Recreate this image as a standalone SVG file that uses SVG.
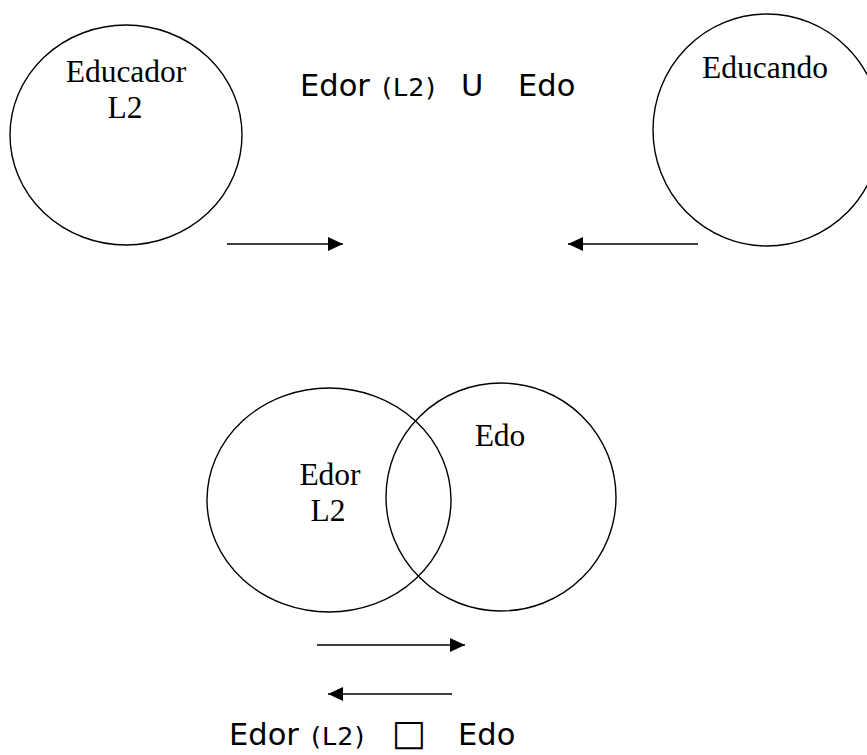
<svg xmlns="http://www.w3.org/2000/svg" width="867" height="755" viewBox="0 0 867 755">
<defs>
<marker id="ah" viewBox="0 0 15 14" refX="15" refY="7" markerWidth="15" markerHeight="14" markerUnits="userSpaceOnUse" orient="auto">
<path d="M0,0 L15,7 L0,14 Z" fill="#000"/>
</marker>
</defs>
<style>
.shape{fill:none;stroke:#000;stroke-width:1.4}
.serif{font-family:"Liberation Serif","Times New Roman",serif;font-size:31.5px;fill:#000}
.sans{font-family:"DejaVu Sans",Verdana,sans-serif;fill:#000}
.big{font-size:30.5px}
.small{font-size:25.5px;letter-spacing:1px}
.sq{font-size:36px}
.conn{stroke:#000;stroke-width:1.7;fill:none;marker-end:url(#ah)}
</style>
<rect width="867" height="755" fill="#fff"/>
<g id="educador">
<ellipse class="shape" cx="126" cy="135" rx="116" ry="110"/>
<text class="serif" x="126" y="82" text-anchor="middle">Educador</text>
<text class="serif" x="125" y="118" text-anchor="middle">L2</text>
</g>
<g id="educando">
<ellipse class="shape" cx="767" cy="130" rx="114" ry="116"/>
<text class="serif" x="765" y="78" text-anchor="middle">Educando</text>
</g>
<g id="union-label">
<text class="sans big" x="300" y="96">Edor</text>
<text class="sans small" x="382" y="96">(L2)</text>
<text class="sans big" x="461" y="96">U</text>
<text class="sans big" x="518" y="96">Edo</text>
</g>
<g id="edor">
<ellipse class="shape" cx="329" cy="500" rx="122" ry="112"/>
<text class="serif" x="330" y="485" text-anchor="middle">Edor</text>
<text class="serif" x="328" y="521" text-anchor="middle">L2</text>
</g>
<g id="edo">
<ellipse class="shape" cx="501" cy="497" rx="115" ry="114"/>
<text class="serif" x="500" y="446" text-anchor="middle">Edo</text>
</g>
<g id="intersection-label">
<text class="sans big" x="229" y="745">Edor</text>
<text class="sans small" x="311" y="745">(L2)</text>
<text class="sans sq" x="392" y="745">□</text>
<text class="sans big" x="458" y="745">Edo</text>
</g>
<g id="connectors">
<line class="conn" x1="227" y1="244" x2="343" y2="244"/>
<line class="conn" x1="698" y1="244" x2="568" y2="244"/>
<line class="conn" x1="317" y1="645" x2="465" y2="645"/>
<line class="conn" x1="452" y1="694" x2="328" y2="694"/>
</g>
</svg>
